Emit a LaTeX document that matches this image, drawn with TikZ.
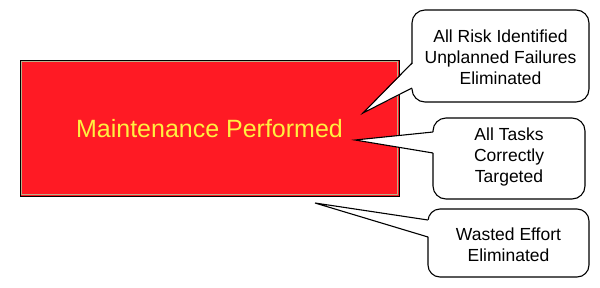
\documentclass[tikz,border=0pt]{standalone}
\usepackage{fontspec}
\setmainfont{Liberation Sans}
\definecolor{mainred}{HTML}{FF1A24}
\definecolor{mainyellow}{HTML}{FFF040}
\definecolor{khaki}{HTML}{B8B08A}
\begin{document}
\begin{tikzpicture}[x=1pt,y=-1pt,
  mainbox/.style={draw=black, line width=1pt, fill=mainred, inner sep=0pt, outer sep=0pt,
    text=mainyellow, font=\fontsize{25}{30}\selectfont},
  callout/.style={draw=black, line width=1.1pt, fill=white, rounded corners=13pt,
    inner sep=0pt, outer sep=0pt, align=center, font=\fontsize{17.5}{21}\selectfont},
  callouttext/.style={align=center, inner sep=0pt, font=\fontsize{17.5}{21}\selectfont},
  pointer/.style={draw=black, line width=1.1pt, line join=miter}]
\useasboundingbox (0,0) rectangle (600,287);
% main box
\node[mainbox, minimum width=379pt, minimum height=135.5pt] (main) at (209.5,128.3) {};
\draw[khaki, line width=1pt] ([shift={(1.3pt,-1.3pt)}]main.north west) rectangle ([shift={(-1.3pt,1.3pt)}]main.south east);
\draw[black, line width=1pt] (main.north west) rectangle (main.south east);
\node[text=mainyellow, font=\fontsize{25}{30}\selectfont] (mtext) at (209.5,129) {Maintenance Performed};
% callouts
\node[callout, minimum width=177pt, minimum height=92pt] (c1) at (500.5,56) {};
\node[callouttext] (c1t) at (500.5,57) {All Risk Identified\\Unplanned Failures\\Eliminated};
\node[callout, minimum width=152pt, minimum height=81pt] (c2) at (509,158.5) {};
\node[callouttext] (c2t) at (509,157) {All Tasks\\Correctly\\Targeted};
\node[callout, minimum width=161pt, minimum height=68pt, rounded corners=12pt] (c3) at (508.5,243) {};
\node[callouttext] (c3t) at (508.5,245) {Wasted Effort\\Eliminated};
% pointer tips
\coordinate (t1) at (363,113);
\coordinate (t2) at (355,140);
\coordinate (t3) at (315,203);
% pointer base points on callout left edges
\coordinate (a1) at (c1.west |- 0,63);
\coordinate (b1) at (c1.west |- 0,88);
\coordinate (a2) at (c2.west |- 0,132);
\coordinate (b2) at (c2.west |- 0,153);
\coordinate (a3) at (c3.west |- 0,220);
\coordinate (b3) at (c3.west |- 0,237);
% pointers
\fill[white] (t1) -- ([xshift=1.5pt]a1) -- ([xshift=1.5pt]b1) -- cycle;
\draw[pointer] (a1) -- (t1) -- (b1);
\fill[white] (t2) -- ([xshift=1.5pt]a2) -- ([xshift=1.5pt]b2) -- cycle;
\draw[pointer] (a2) -- (t2) -- (b2);
\fill[white] (t3) -- ([xshift=1.5pt]a3) -- ([xshift=1.5pt]b3) -- cycle;
\draw[pointer] (a3) -- (t3) -- (b3);
\end{tikzpicture}
\end{document}
